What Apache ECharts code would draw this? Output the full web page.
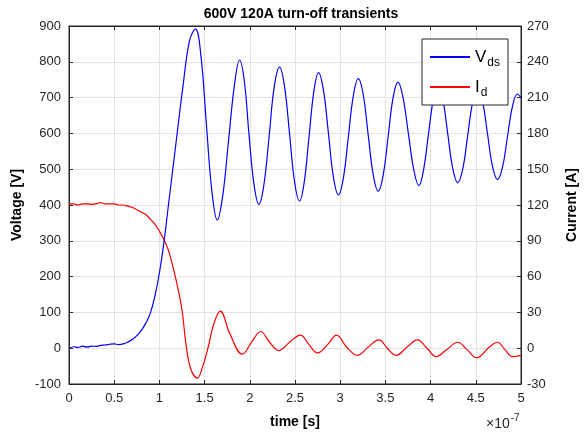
<!DOCTYPE html>
<html>
<head>
<meta charset="utf-8">
<script src="https://cdn.jsdelivr.net/npm/echarts@6/dist/echarts.min.js"></script>
<style>
  html, body { margin: 0; padding: 0; background: #fff; }
  #main { width: 587px; height: 436px; }
</style>
</head>
<body>
<div id="main"></div>
<script>
// time in units of 1e-7 s
var tV = [0, 0.05, 0.1, 0.15, 0.2, 0.25, 0.3, 0.35, 0.4, 0.45, 0.5, 0.55, 0.6, 0.65, 0.7, 0.75, 0.8, 0.85, 0.9, 0.95, 1.0, 1.05, 1.1, 1.17, 1.26, 1.335,
  1.40, 1.46, 1.52, 1.58, 1.64, 1.70, 1.765, 1.83, 1.887, 1.94, 1.99, 2.045, 2.10, 2.155, 2.215, 2.27,
  2.33, 2.385, 2.44, 2.495, 2.55, 2.60, 2.655, 2.71, 2.76, 2.815, 2.87, 2.925, 2.98, 3.035, 3.09, 3.145,
  3.20, 3.255, 3.31, 3.365, 3.42, 3.475, 3.53, 3.585, 3.64, 3.695, 3.755, 3.815, 3.87, 3.92, 3.975, 4.03,
  4.08, 4.135, 4.19, 4.245, 4.30, 4.355, 4.41, 4.465, 4.52, 4.575, 4.63, 4.685, 4.74, 4.795, 4.85, 4.905, 4.96, 5.0];
var vds = [0, 4, 2, 6, 3, 6, 5, 8, 9, 11, 12, 10, 12, 17, 24, 35, 50, 70, 98, 145, 210, 295, 400, 545, 730, 861,
  891, 815, 625, 440, 358, 425, 580, 735, 805, 745, 600, 460, 402, 455, 595, 730,
  785, 730, 598, 465, 411, 460, 590, 720, 770, 720, 600, 478, 428, 475, 590, 705,
  753, 708, 595, 485, 439, 483, 590, 700, 743, 700, 598, 497, 454, 495, 595, 695,
  735, 695, 598, 502, 462, 500, 593, 687, 725, 688, 598, 508, 471, 505, 590, 675, 710, 700];

var tI = [0, 0.05, 0.1, 0.15, 0.2, 0.25, 0.3, 0.35, 0.4, 0.45, 0.5, 0.55, 0.6, 0.65, 0.7, 0.75, 0.8, 0.85, 0.9, 0.95, 1.0, 1.05, 1.1, 1.15, 1.2, 1.25, 1.3, 1.35,
  1.42, 1.48, 1.54, 1.60, 1.674, 1.78, 1.917, 2.02, 2.12, 2.22, 2.32, 2.44, 2.56, 2.655, 2.75, 2.86, 2.96, 3.07, 3.19, 3.31, 3.43, 3.52,
  3.62, 3.74, 3.855, 3.96, 4.06, 4.18, 4.30, 4.40, 4.51, 4.65, 4.74, 4.82, 4.905, 5.0];
var id = [121, 121, 120, 121, 121, 120.5, 121, 122, 121, 121, 121, 120, 120, 119, 118, 116, 114, 112, 108, 104, 98, 91, 82, 68, 52, 32, 0, -18,
  -25, -15, 1, 20, 31, 12, -5, 5, 14, 5, -2, 5, 11, 3, -4, 3, 11, 1, -6, 1, 7, 0,
  -6, 1, 7, 0, -7, -1, 5, -1, -8, 1, 5, -1, -7, -6];

var xTicks = { min: 0, max: 5, interval: 0.5 };
var vTicks = { min: -100, max: 900, interval: 100 };
var iTicks = { min: -30, max: 270, interval: 30 };

function pairs(xs, ys) {
  return xs.map(function (x, i) { return [x, ys[i]]; });
}

var chart = echarts.init(document.getElementById('main'));
var axisColor = '#262626';
var font = 'Liberation Sans, Arial, sans-serif';

var option = {
  animation: false,
  textStyle: { fontFamily: font },
  title: {
    text: '600V 120A turn-off transients',
    left: 296, top: 2, textAlign: 'center',
    textStyle: { fontSize: 14, fontWeight: 'bold', color: '#000', fontFamily: font }
  },
  grid: {
    left: 69, right: 65, top: 26, bottom: 52,
    show: true, borderColor: axisColor, borderWidth: 1, backgroundColor: '#fff'
  },
  legend: {
    orient: 'vertical',
    left: 422, top: 39,
    width: 88,
    padding: [6, 8, 6, 8],
    itemGap: 6,
    itemWidth: 40, itemHeight: 2,
    icon: 'rect',
    backgroundColor: '#fff',
    borderColor: axisColor, borderWidth: 1, borderRadius: 0,
    data: ['Vds', 'Id'],
    formatter: function (name) {
      return name === 'Vds' ? '{v|V}{s|ds}' : '{v|I}{s|d}';
    },
    textStyle: {
      color: '#000',
      rich: {
        v: { fontSize: 17, fontFamily: font, color: '#000', lineHeight: 24 },
        s: { fontSize: 12, fontFamily: font, color: '#000', padding: [12, 0, 0, 1], lineHeight: 24 }
      }
    }
  },
  xAxis: [{
    type: 'value',
    min: xTicks.min, max: xTicks.max, interval: xTicks.interval,
    name: 'time [s]', nameLocation: 'middle', nameGap: 31,
    nameTextStyle: { fontSize: 14, fontWeight: 'bold', color: '#000', fontFamily: font },
    axisLine: { onZero: false, lineStyle: { color: axisColor } },
    axisTick: { inside: true, length: 4, lineStyle: { color: axisColor } },
    axisLabel: { fontSize: 13, color: axisColor, margin: 8, fontFamily: font },
    splitLine: { show: true, lineStyle: { color: '#e3e3e3' } }
  }, {
    type: 'value', position: 'top',
    min: xTicks.min, max: xTicks.max, interval: xTicks.interval,
    axisLine: { show: true, onZero: false, lineStyle: { color: axisColor } },
    axisTick: { show: true, inside: true, length: 4, lineStyle: { color: axisColor } },
    axisLabel: { show: false },
    splitLine: { show: false }
  }],
  yAxis: [{
    type: 'value', position: 'left',
    min: vTicks.min, max: vTicks.max, interval: vTicks.interval,
    name: 'Voltage [V]', nameLocation: 'middle', nameGap: 45, nameRotate: 90,
    nameTextStyle: { fontSize: 14, fontWeight: 'bold', color: '#000', fontFamily: font },
    axisLine: { show: true, onZero: false, lineStyle: { color: axisColor } },
    axisTick: { show: true, inside: true, length: 4, lineStyle: { color: axisColor } },
    axisLabel: { fontSize: 13, color: axisColor, margin: 8, fontFamily: font },
    splitLine: { show: true, lineStyle: { color: '#e3e3e3' } }
  }, {
    type: 'value', position: 'right',
    min: iTicks.min, max: iTicks.max, interval: iTicks.interval,
    name: 'Current [A]', nameLocation: 'middle', nameGap: 44, nameRotate: 90,
    nameTextStyle: { fontSize: 14, fontWeight: 'bold', color: '#000', fontFamily: font },
    axisLine: { show: true, onZero: false, lineStyle: { color: axisColor } },
    axisTick: { show: true, inside: true, length: 4, lineStyle: { color: axisColor } },
    axisLabel: { fontSize: 13, color: axisColor, margin: 6, fontFamily: font },
    splitLine: { show: false }
  }],
  graphic: [{
    type: 'text',
    left: 486, top: 413,
    style: {
      text: '{x|×10}{e|-7}',
      rich: {
        x: { fontSize: 14, fill: axisColor, fontFamily: font, lineHeight: 18, padding: [4, 0, 0, 0] },
        e: { fontSize: 10, fill: axisColor, fontFamily: font, padding: [0, 0, 8, 1] }
      }
    }
  }],
  series: [{
    name: 'Id', type: 'line', yAxisIndex: 1,
    data: pairs(tI, id),
    smooth: 0.4, showSymbol: false,
    lineStyle: { color: '#ff0000', width: 1.2 },
    itemStyle: { color: '#ff0000' }
  }, {
    name: 'Vds', type: 'line', yAxisIndex: 0,
    data: pairs(tV, vds),
    smooth: 0.4, showSymbol: false,
    lineStyle: { color: '#0000ff', width: 1.2 },
    itemStyle: { color: '#0000ff' }
  }]
};
chart.setOption(option);
</script>
</body>
</html>
